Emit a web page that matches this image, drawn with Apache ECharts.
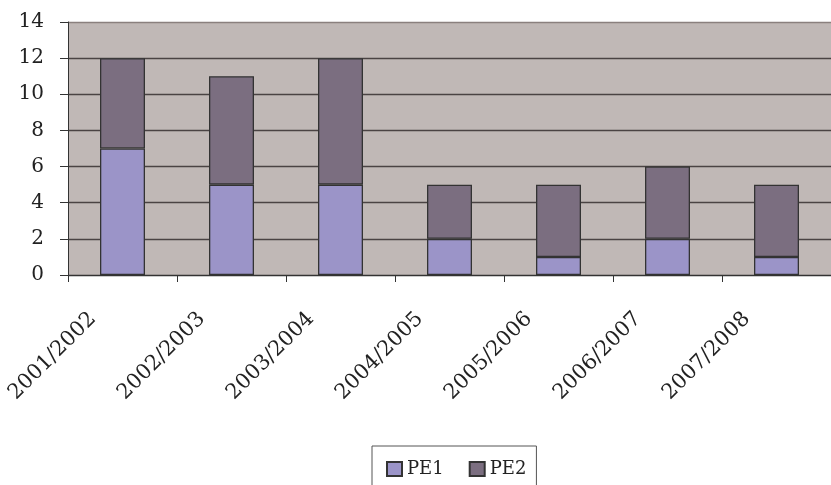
<!DOCTYPE html>
<html>
<head>
<meta charset="utf-8">
<script src="https://cdn.jsdelivr.net/npm/echarts@6/dist/echarts.min.js"></script>
<style>html,body{margin:0;padding:0;background:#fff;}#c{width:831px;height:485px;}</style>
</head>
<body>
<div id="c"></div>
<script>
var categories = ['2001/2002','2002/2003','2003/2004','2004/2005','2005/2006','2006/2007','2007/2008'];
var pe1 = [7, 5, 5, 2, 1, 2, 1];
var pe2 = [5, 6, 7, 3, 4, 4, 4];
var yTicks = [0, 2, 4, 6, 8, 10, 12, 14];

var font = '"DejaVu Serif", serif';
var chart = echarts.init(document.getElementById('c'));
chart.setOption({
  animation: false,
  backgroundColor: '#ffffff',
  textStyle: { fontFamily: font },
  grid: {
    left: 68, top: 22, bottom: 210, right: -10,
    show: true, backgroundColor: '#c0b8b6', borderWidth: 0
  },
  legend: {
    data: ['PE1', 'PE2'],
    left: 372, top: 446,
    orient: 'horizontal',
    padding: [14, 10, 40, 14],
    itemGap: 25,
    itemWidth: 15, itemHeight: 14,
    icon: 'rect',
    borderColor: '#555', borderWidth: 1,
    textStyle: { fontFamily: font, fontSize: 18, color: '#222' }
  },
  xAxis: {
    type: 'category',
    data: categories,
    axisLine: { lineStyle: { color: '#333', width: 1 } },
    axisTick: { show: true, length: 7, lineStyle: { color: '#333' } },
    axisLabel: {
      interval: 0, rotate: 45, margin: 11,
      padding: [0, 42, 0, 0],
      fontFamily: font, fontSize: 21, color: '#222'
    }
  },
  yAxis: {
    type: 'value',
    min: yTicks[0], max: yTicks[yTicks.length - 1], interval: 2,
    axisLine: { show: true, lineStyle: { color: '#333', width: 1 } },
    axisTick: { show: true, length: 8, lineStyle: { color: '#333' } },
    axisLabel: { margin: 24, fontFamily: font, fontSize: 20, color: '#222' },
    splitLine: { show: true, lineStyle: { color: ['#333','#4a4343','#4a4343','#4a4343','#4a4343','#4a4343','#4a4343','#8a807e'], width: 1.4 } }
  },
  series: [
    { name: 'PE1', type: 'bar', stack: 's', data: pe1, barWidth: 45,
      itemStyle: { color: '#9b94c8', borderColor: '#333', borderWidth: 1.3 } },
    { name: 'PE2', type: 'bar', stack: 's', data: pe2, barWidth: 45,
      itemStyle: { color: '#7b6e80', borderColor: '#333', borderWidth: 1.3 } }
  ]
});
</script>
</body>
</html>
